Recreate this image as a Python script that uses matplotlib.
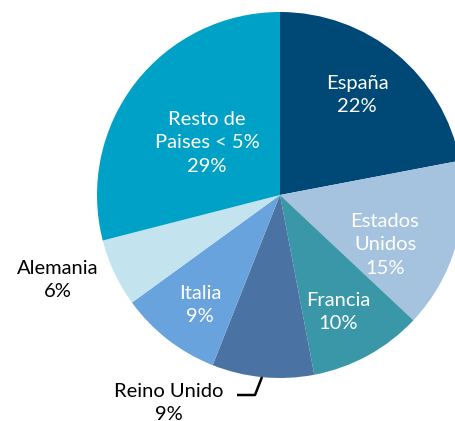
import matplotlib
matplotlib.use("Agg")
import matplotlib.pyplot as plt

categories = ["España", "Estados\nUnidos", "Francia", "Reino Unido", "Italia", "Alemania", "Resto de\nPaises < 5%"]
values = [22, 15, 10, 9, 9, 6, 29]
colors = ["#004876", "#a5c2de", "#3a97a8", "#4a73a3", "#68a3dd", "#c3e3ee", "#00a1c6"]
label_colors = ["white", "white", "white", "black", "white", "black", "white"]

plt.rcParams['font.family'] = ['Lato', 'DejaVu Sans']

W, H = 455, 421
fig = plt.figure(figsize=(W / 100, H / 100), dpi=100)
ax = fig.add_axes([0, 0, 1, 1])

cx, cy, R = 280, H - 195, 183
wedges, _ = ax.pie(values, colors=colors, startangle=90, counterclock=False,
                   center=(cx, cy), radius=R, frame=True,
                   wedgeprops=dict(linewidth=0))
ax.set_xlim(0, W)
ax.set_ylim(0, H)
ax.set_aspect('equal')
ax.axis('off')

# label positions in pixel coordinates (x, y from top)
label_pos = [(357, 95), (385, 245), (338, 312), (169, 403), (200, 305), (58, 280), (207, 143)]
for cat, v, (lx, ly), c in zip(categories, values, label_pos, label_colors):
    ax.text(lx, H - ly, f"{cat}\n{v}%", ha='center', va='center', color=c,
            fontsize=14.5, linespacing=1.45)

# leader line for Reino Unido
ax.plot([262, 255, 237], [H - 377, H - 395, H - 395], color='black', lw=1.8,
        solid_capstyle='butt', clip_on=False)

fig.savefig("out.png", dpi=100)
